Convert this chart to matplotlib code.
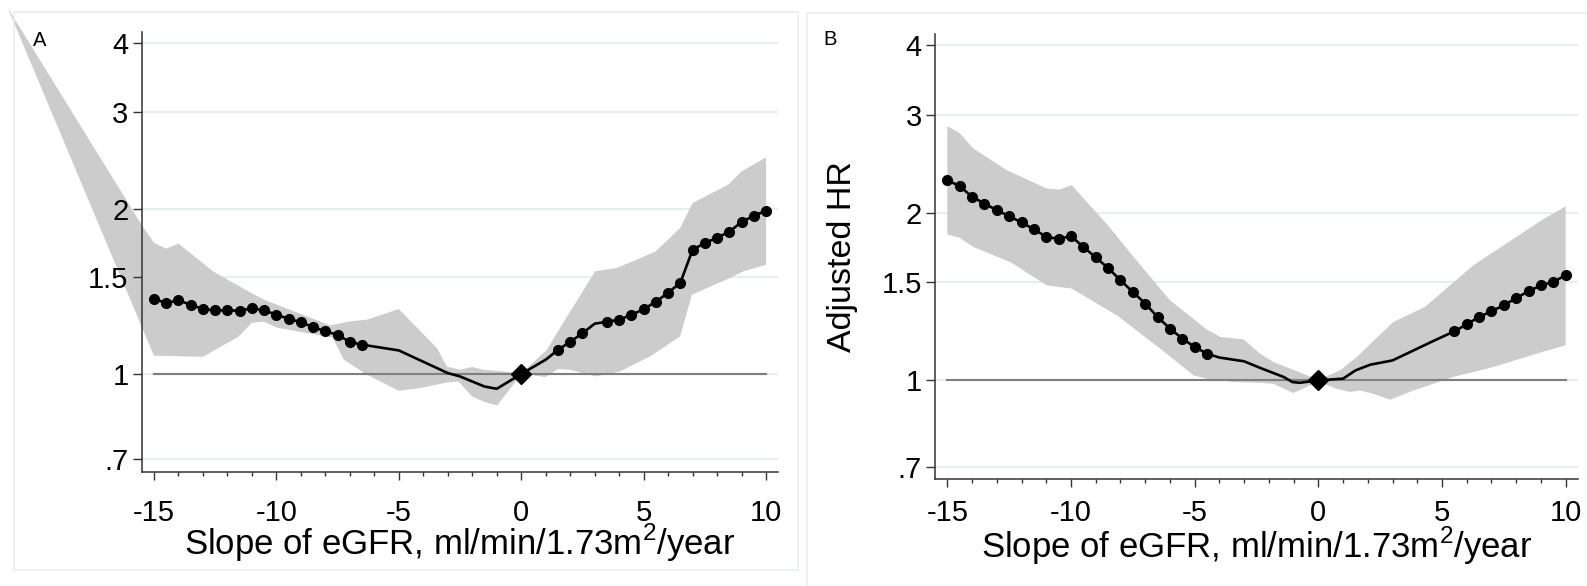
import numpy as np
import matplotlib
matplotlib.use("Agg")
import matplotlib.pyplot as plt
from matplotlib.patches import Rectangle
from matplotlib.ticker import FixedLocator, NullLocator, MultipleLocator

plt.rcParams['font.family'] = ['Liberation Sans', 'DejaVu Sans']
plt.rcParams['mathtext.fontset'] = 'custom'
plt.rcParams['mathtext.rm'] = 'Liberation Sans'

# ---- panel A: curve (x, HR), markers where sig is 1
a_x = [-15, -14.5, -14, -13.5, -13, -12.5, -12, -11.5, -11, -10.5, -10, -9.5, -9, -8.5,
       -8, -7.5, -7, -6.5, -5, -3, -2.5, -1.5, -1, 0, 1, 1.5, 2, 2.5, 3, 3.5, 4, 4.5,
       5, 5.5, 6, 6.5, 7, 7.5, 8, 8.5, 9, 9.5, 10]
a_hr = [1.370, 1.347, 1.362, 1.337, 1.313, 1.306, 1.306, 1.304, 1.317, 1.306, 1.282, 1.261,
        1.242, 1.218, 1.196, 1.179, 1.144, 1.131, 1.104, 1.004, 0.990, 0.949, 0.940, 1.000,
        1.062, 1.106, 1.145, 1.186, 1.235, 1.245, 1.256, 1.281, 1.313, 1.354, 1.406, 1.466,
        1.684, 1.732, 1.771, 1.816, 1.891, 1.942, 1.983]
a_sig = [1] * 18 + [0, 0, 0, 0, 0, 0, 0] + [1, 1, 1, 0] + [1] * 14

# panel A confidence band edges (the band runs out past the left axis edge)
a_up_x = [-20.97, -15.48, -15, -14.5, -14, -12.57, -10.9, -10.4, -7.8, -7.0, -6.3, -5.0,
          -3.44, -3.04, -2.5, -2.0, -1.54, -0.45, 0, 1.05, 1.46, 3.02, 3.9, 4.72, 5.49,
          6.49, 7.0, 8.46, 9.0, 10]
a_up = [4.64, 1.862, 1.734, 1.691, 1.728, 1.536, 1.394, 1.360, 1.226, 1.247, 1.256, 1.313,
        1.115, 1.032, 1.018, 1.030, 1.018, 1.008, 1.002, 1.107, 1.188, 1.538, 1.560, 1.615,
        1.672, 1.844, 2.048, 2.212, 2.338, 2.480]
a_lo_x = [-20.97, -15.48, -15, -13, -11.55, -11, -10.5, -9.96, -7.7, -7.25, -6.3, -5.0,
          -4.12, -3.04, -2.56, -2.0, -1.54, -0.99, 0, 0.37, 0.98, 1.5, 2.0, 3.02, 4.04,
          5.27, 6.49, 6.97, 8.53, 9.07, 10]
a_lo = [4.64, 1.213, 1.080, 1.075, 1.169, 1.240, 1.245, 1.214, 1.165, 1.062, 0.997, 0.932,
        0.943, 0.965, 0.969, 0.910, 0.891, 0.876, 0.998, 0.997, 0.987, 1.021, 1.018, 0.990,
        1.011, 1.077, 1.171, 1.394, 1.496, 1.538, 1.581]

# ---- panel B
b_x = [-15, -14.5, -14, -13.5, -13, -12.5, -12, -11.5, -11, -10.5, -10, -9.5, -9, -8.5,
       -8, -7.5, -7, -6.5, -6, -5.5, -5, -4.5, -4, -3, -2.4, -1.4, -1.05, -0.75, 0, 1.0,
       1.5, 2.1, 3.0, 3.85, 4.65, 5.5, 6, 6.5, 7, 7.5, 8, 8.5, 9, 9.5, 10]
b_hr = [2.290, 2.234, 2.137, 2.079, 2.022, 1.973, 1.922, 1.869, 1.811, 1.796, 1.816, 1.737,
        1.663, 1.592, 1.513, 1.442, 1.374, 1.300, 1.239, 1.189, 1.148, 1.117, 1.099, 1.082,
        1.055, 1.014, 0.993, 0.990, 1.000, 1.007, 1.042, 1.067, 1.086, 1.132, 1.177, 1.225,
        1.261, 1.300, 1.331, 1.364, 1.406, 1.446, 1.482, 1.503, 1.545]
b_sig = [1] * 22 + [0] * 13 + [1] * 10

b_up_x = [-15, -14.49, -13.95, -12.6, -10.98, -10.47, -9.97, -8.48, -7.47, -6.0, -4.51,
          -3.97, -3.02, -2.36, -1.82, -1.14, 0, 0.88, 1.55, 3.03, 4.31, 6.27, 9.03, 10]
b_up = [2.864, 2.779, 2.611, 2.387, 2.212, 2.203, 2.243, 1.893, 1.667, 1.393, 1.234,
        1.197, 1.185, 1.117, 1.079, 1.050, 1.003, 1.042, 1.101, 1.273, 1.355, 1.610, 1.940, 2.055]
b_lo_x = [-15, -14.49, -13.95, -12.46, -10.98, -9.97, -8.15, -6.39, -5.05, -4.51, -3.43,
          -2.36, -1.82, -1.01, 0, 0.74, 1.28, 1.69, 2.22, 2.9, 3.85, 5.46, 7.09, 9.03, 10]
b_lo = [1.829, 1.803, 1.737, 1.632, 1.482, 1.462, 1.309, 1.140, 1.021, 1.007, 0.993,
        0.990, 0.986, 0.949, 0.995, 0.966, 0.953, 0.959, 0.946, 0.923, 0.959, 1.014, 1.057,
        1.124, 1.156]

y_ticks = [0.7, 1, 1.5, 2, 3, 4]
y_labels = ['.7', '1', '1.5', '2', '3', '4']
x_ticks = [-15, -10, -5, 0, 5, 10]
x_label = r'Slope of eGFR, ml/min/1.73m$^{2}$/year'

GRID = '#e6eef0'
BAND = '#cccccc'
AXC = '#333333'

W, H = 1587, 586
fig = plt.figure(figsize=(W / 100, H / 100), dpi=100)


def px_axes(l, t, r, b):
    return fig.add_axes([l / W, 1 - b / H, (r - l) / W, (b - t) / H])


def draw_panel(ax, x, hr, sig, up_x, up, lo_x, lo, xpad, clip=True):
    ax.set_yscale('log')
    ax.set_xlim(-15.5, 10.5)
    ax.set_ylim(0.664, 4.2)
    for v in y_ticks:
        ax.axhline(v, color=GRID, lw=1.6, zorder=0)
    poly_x = list(up_x) + list(lo_x)[::-1]
    poly_y = list(up) + list(lo)[::-1]
    ax.fill(poly_x, poly_y, color=BAND, lw=0, zorder=1, clip_on=clip)
    ax.plot([-15, 10], [1, 1], color='#7f7f7f', lw=1.5, zorder=2)
    ax.plot(x, hr, color='black', lw=1.9, zorder=3)
    mx = [xi for xi, s in zip(x, sig) if s]
    my = [yi for yi, s in zip(hr, sig) if s]
    ax.plot(mx, my, 'o', color='black', ms=7, zorder=4)
    ax.plot([0], [1], 'D', color='black', ms=10.5, zorder=5)

    ax.yaxis.set_major_locator(FixedLocator(y_ticks))
    ax.yaxis.set_minor_locator(NullLocator())
    ax.set_yticklabels(y_labels)
    ax.set_xticks(x_ticks)
    ax.set_xticklabels([str(t) for t in x_ticks])
    ax.xaxis.set_minor_locator(MultipleLocator(1))
    ax.tick_params(axis='y', length=6.5, width=1, labelsize=21, pad=3, color=AXC)
    ax.tick_params(axis='x', which='major', length=5.5, width=1, labelsize=21, pad=xpad,
                   color=AXC)
    ax.tick_params(axis='x', which='minor', length=3.2, width=1, color=AXC)
    for s in ['top', 'right']:
        ax.spines[s].set_visible(False)
    for s in ['left', 'bottom']:
        ax.spines[s].set_color(AXC)
        ax.spines[s].set_linewidth(1.1)
    ax.set_facecolor('none')


# panel frames
fig.patches.append(Rectangle((14 / W, 1 - 570 / H), 784 / W, 558 / H, transform=fig.transFigure,
                             fill=False, edgecolor='#e8eff1', lw=1.2, zorder=0))
fig.patches.append(Rectangle((807 / W, 1 - 600 / H), 800 / W, 587 / H, transform=fig.transFigure,
                             fill=False, edgecolor='#e8eff1', lw=1.2, zorder=0))

ax_a = px_axes(141.7, 31.7, 778.3, 471.7)
draw_panel(ax_a, a_x, a_hr, a_sig, a_up_x, a_up, a_lo_x, a_lo, xpad=14.5, clip=False)
ax_a.set_xlabel(x_label, fontsize=25)
ax_a.xaxis.set_label_coords(0.5, -(555 - 471.7) / 440)
ax_a.xaxis.label.set_va('baseline')

ax_b = px_axes(935, 33.6, 1578, 479.3)
draw_panel(ax_b, b_x, b_hr, b_sig, b_up_x, b_up, b_lo_x, b_lo, xpad=9.0)
ax_b.set_xlabel(x_label, fontsize=25)
ax_b.xaxis.set_label_coords(0.5, -(557.5 - 479.3) / 445.7)
ax_b.xaxis.label.set_va('baseline')
ax_b.set_ylabel('Adjusted HR', fontsize=24.5)
ax_b.yaxis.set_label_coords(-0.12, 0.5)

fig.text(39.2 / W, 1 - 40.3 / H, 'A', fontsize=14.5, ha='center', va='center')
fig.text(830 / W, 1 - 39.5 / H, 'B', fontsize=14.5, ha='center', va='center')

fig.savefig('out.png', dpi=100)
